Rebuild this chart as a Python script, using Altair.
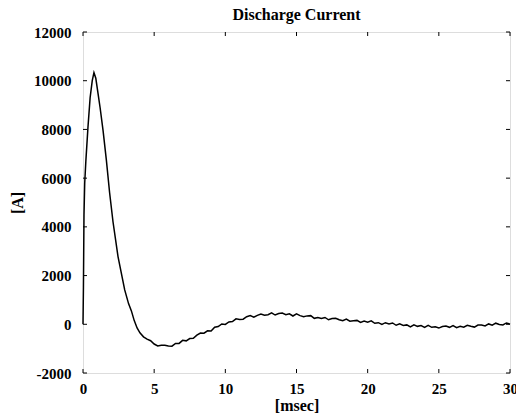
import altair as alt
import pandas as pd

# time in msec, current in A
t_main = [0, 0.03, 0.07, 0.12, 0.2, 0.35, 0.5, 0.65, 0.77, 0.9, 1.05, 1.2, 1.41,
          1.64, 1.87, 2.11, 2.46, 2.93, 3.2, 3.4, 3.6, 3.8]
i_main = [0, 1500, 4500, 5800, 6700, 8100, 9300, 10000, 10330, 10100, 9500, 8900, 7950,
          6750, 5400, 4200, 2780, 1410, 850, 550, 150, -150]

t_tail = [4.0, 4.25, 4.5, 4.75, 5.0, 5.25, 5.5, 5.75, 6.0, 6.25, 6.5, 6.75, 7.0, 7.25,
          7.5, 7.75, 8.0, 8.25, 8.5, 8.75, 9.0, 9.25, 9.5, 9.75, 10.0, 10.25, 10.5,
          10.75, 11.0, 11.25, 11.5, 11.75, 12.0, 12.25, 12.5, 12.75, 13.0, 13.25, 13.5,
          13.75, 14.0, 14.25, 14.5, 14.75, 15.0, 15.25, 15.5, 15.75, 16.0, 16.25, 16.5,
          16.75, 17.0, 17.25, 17.5, 17.75, 18.0, 18.25, 18.5, 18.75, 19.0, 19.25, 19.5,
          19.75, 20.0, 20.25, 20.5, 20.75, 21.0, 21.25, 21.5, 21.75, 22.0, 22.25, 22.5,
          22.75, 23.0, 23.25, 23.5, 23.75, 24.0, 24.25, 24.5, 24.75, 25.0, 25.25, 25.5,
          25.75, 26.0, 26.25, 26.5, 26.75, 27.0, 27.25, 27.5, 27.75, 28.0, 28.25, 28.5,
          28.75, 29.0, 29.25, 29.5, 29.75, 30.0]
i_tail = [-350, -515, -610, -675, -810, -890, -865, -860, -890, -900,
          -785, -785, -660, -680, -585, -575, -445, -360, -365, -270,
          -275, -120, -95, 15, -5, 95, 110, 225, 200, 210,
          310, 355, 290, 365, 420, 375, 395, 470, 380, 440,
          460, 390, 430, 340, 425, 355, 310, 345, 355, 245,
          280, 235, 280, 185, 240, 250, 185, 145, 215, 125,
          145, 160, 75, 130, 85, 140, 40, 65, -10, 65,
          15, 55, -40, 15, -45, -25, -110, -25, -85, -55,
          -125, -45, -125, -100, -155, -90, -75, -125, -50, -140,
          -85, -120, -40, -80, -115, -30, -30, -70, 15, -35,
          45, -5, -30, 55, 5]

x_ticks = [0, 5, 10, 15, 20, 25, 30]
y_ticks = [-2000, 0, 2000, 4000, 6000, 8000, 10000, 12000]

df = pd.DataFrame({"t": t_main + t_tail, "i": i_main + i_tail})
dfx = pd.DataFrame({"v": x_ticks})
dfy = pd.DataFrame({"v": y_ticks})

W, H = 427, 341
FONT = "Liberation Serif"

xscale = alt.Scale(domain=[0, 30], nice=False)
yscale = alt.Scale(domain=[-2000, 12000], nice=False)

line = alt.Chart(df).mark_line(color="black", strokeWidth=1.5).encode(
    x=alt.X("t:Q", scale=xscale, title="[msec]",
            axis=alt.Axis(values=x_ticks, tickSize=0, domain=False, grid=False,
                          labelExpr="'' + datum.value",
                          labelFont=FONT, labelFontSize=15, labelFontWeight="bold",
                          labelColor="black", labelPadding=8, labelFlush=False,
                          labelOverlap=False, labelBound=False,
                          titleFont=FONT, titleFontSize=16, titleFontWeight="bold",
                          titleColor="black", titlePadding=1)),
    y=alt.Y("i:Q", scale=yscale, title="[A]",
            axis=alt.Axis(values=y_ticks, tickSize=0, domain=False, grid=False,
                          labelExpr="'' + datum.value",
                          labelFont=FONT, labelFontSize=15, labelFontWeight="bold",
                          labelColor="black", labelPadding=12, labelFlush=False,
                          labelOverlap=False, labelBound=False,
                          titleFont=FONT, titleFontSize=16, titleFontWeight="bold",
                          titleColor="black", titlePadding=8)),
)

tick_len = 4
bottom_ticks = alt.Chart(dfx).mark_rule(color="black", strokeWidth=1).encode(
    x=alt.X("v:Q", scale=xscale), y=alt.value(H), y2=alt.value(H - tick_len))
top_ticks = alt.Chart(dfx).mark_rule(color="black", strokeWidth=1).encode(
    x=alt.X("v:Q", scale=xscale), y=alt.value(0), y2=alt.value(tick_len))
left_ticks = alt.Chart(dfy).mark_rule(color="black", strokeWidth=1).encode(
    y=alt.Y("v:Q", scale=yscale), x=alt.value(0), x2=alt.value(tick_len))
right_ticks = alt.Chart(dfy).mark_rule(color="black", strokeWidth=1).encode(
    y=alt.Y("v:Q", scale=yscale), x=alt.value(W), x2=alt.value(W - tick_len))

chart = alt.layer(line, bottom_ticks, top_ticks, left_ticks, right_ticks).properties(
    width=W, height=H,
    title=alt.TitleParams("Discharge Current", font=FONT, fontSize=16,
                          fontWeight="bold", color="black", anchor="middle", offset=2),
    autosize=alt.AutoSizeParams(type="none"),
    padding={"left": 83, "top": 32, "right": 6, "bottom": 41},
).configure_view(stroke="black", strokeWidth=1.2).configure(background="white")

chart.save("out.html", embed_options={"renderer": "svg", "actions": False})
